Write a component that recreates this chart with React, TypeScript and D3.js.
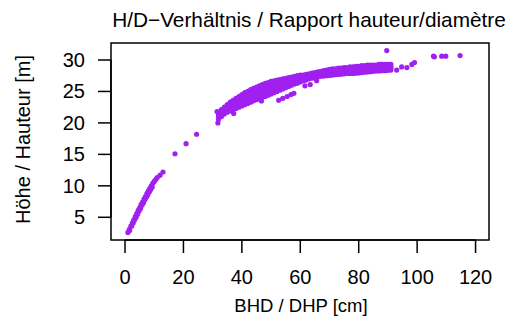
import React from "react";
import * as d3 from "d3";

// Small trees (diameter cm, height m)
const smallDbh = [1.0, 1.5, 2.0, 2.5, 3.0, 3.5, 4.0, 4.5, 5.0, 5.5, 6.0, 6.5, 7.0, 7.5, 8.0, 8.5, 9.0, 9.5, 10.0, 10.5, 11.0, 12.0, 13.0];
const smallH = [2.6, 3.1, 3.6, 4.1, 4.6, 5.1, 5.6, 6.1, 6.5, 7.0, 7.4, 7.9, 8.3, 8.8, 9.2, 9.6, 10.0, 10.4, 10.7, 11.0, 11.3, 11.7, 12.2];
const smallDbh2 = [1.6, 2.3, 2.8, 3.3, 3.8, 4.3, 4.8, 5.3, 5.8, 6.3, 6.8, 7.3, 7.8, 8.3, 8.8, 9.3];
const smallH2 = [2.9, 3.6, 4.1, 4.6, 5.0, 5.5, 6.0, 6.4, 6.9, 7.3, 7.8, 8.2, 8.6, 9.0, 9.4, 9.8];

// Main stand band
const bandDbh = [32, 33, 34, 35, 36, 37, 38, 39, 40, 41, 42, 43, 44, 45, 46, 47, 48, 49, 50, 51, 52, 53, 54, 55, 56, 57, 58, 59, 60, 61, 62, 63, 64, 65, 66, 67, 68, 69, 70, 71, 72, 73, 74, 75, 76, 77, 78, 79, 80, 81, 82, 83, 84, 85, 86, 87, 88, 89, 90, 91];
const bandTop = [21.7, 22.1, 22.5, 22.9, 23.3, 23.6, 23.9, 24.2, 24.5, 24.8, 25.0, 25.3, 25.5, 25.7, 25.9, 26.1, 26.3, 26.4, 26.6, 26.7, 26.8, 26.9, 27.0, 27.1, 27.2, 27.3, 27.4, 27.5, 27.6, 27.6, 27.7, 27.8, 27.9, 28.0, 28.1, 28.2, 28.3, 28.4, 28.5, 28.6, 28.6, 28.7, 28.7, 28.8, 28.8, 28.9, 28.9, 29.0, 29.0, 29.1, 29.1, 29.2, 29.2, 29.2, 29.2, 29.3, 29.3, 29.3, 29.3, 29.3];
const bandMid1 = [21.3, 21.7, 22.1, 22.5, 22.8, 23.1, 23.4, 23.6, 23.9, 24.2, 24.4, 24.6, 24.8, 25.0, 25.2, 25.4, 25.6, 25.7, 25.9, 26.1, 26.2, 26.3, 26.5, 26.6, 26.7, 26.9, 27.0, 27.1, 27.2, 27.3, 27.4, 27.5, 27.6, 27.7, 27.8, 27.9, 28.0, 28.1, 28.2, 28.3, 28.3, 28.4, 28.4, 28.5, 28.5, 28.6, 28.6, 28.6, 28.7, 28.7, 28.8, 28.8, 28.9, 28.9, 28.9, 28.9, 29.0, 29.0, 29.0, 29.0];
const bandMid2 = [21.0, 21.4, 21.8, 22.1, 22.4, 22.6, 22.8, 23.1, 23.3, 23.5, 23.7, 24.0, 24.2, 24.4, 24.6, 24.8, 24.9, 25.1, 25.3, 25.4, 25.6, 25.8, 25.9, 26.1, 26.3, 26.4, 26.6, 26.7, 26.9, 27.0, 27.1, 27.3, 27.4, 27.5, 27.6, 27.7, 27.7, 27.8, 27.9, 27.9, 28.0, 28.0, 28.1, 28.1, 28.2, 28.2, 28.2, 28.3, 28.3, 28.4, 28.4, 28.5, 28.5, 28.5, 28.6, 28.6, 28.6, 28.6, 28.7, 28.7];
const bandLow = [20.6, 21.0, 21.4, 21.7, 21.9, 22.1, 22.3, 22.5, 22.7, 22.9, 23.1, 23.3, 23.5, 23.7, 23.9, 24.1, 24.2, 24.4, 24.6, 24.8, 25.0, 25.2, 25.4, 25.6, 25.8, 26.0, 26.2, 26.3, 26.5, 26.7, 26.8, 27.0, 27.1, 27.2, 27.3, 27.4, 27.45, 27.5, 27.55, 27.6, 27.65, 27.7, 27.75, 27.8, 27.85, 27.85, 27.85, 27.9, 27.95, 28.0, 28.05, 28.1, 28.15, 28.2, 28.25, 28.25, 28.3, 28.3, 28.35, 28.4];

// Scattered trees
const otherDbh = [17.1, 20.9, 24.5, 31.5, 31.8, 37.2, 46.7, 52.6, 54.0, 55.5, 56.8, 57.8, 61.6, 63.4, 65.6, 93.0, 94.7, 96.5, 98.2, 99.1, 89.6, 105.6, 105.9, 108.4, 109.8, 114.7];
const otherH = [15.1, 16.7, 18.2, 21.8, 20.0, 21.5, 23.5, 23.6, 23.9, 24.2, 24.5, 24.7, 25.9, 26.1, 26.7, 28.4, 28.9, 28.8, 29.3, 29.6, 31.5, 30.6, 30.5, 30.6, 30.6, 30.7];

const xTicks = [0, 20, 40, 60, 80, 100, 120];
const yTicks = [5, 10, 15, 20, 25, 30];

const title = "H/D\u2212Verhältnis / Rapport hauteur/diamètre";
const xLabel = "BHD / DHP [cm]";
const yLabel = "Höhe / Hauteur [m]";

export default function App() {
  const W = 527, H = 318;
  const left = 111, right = 489, top = 43, bottom = 240;
  const x = d3.scaleLinear().domain([-4.8, 124.6]).range([left, right]);
  const y = d3.scaleLinear().domain([1.39, 32.7]).range([bottom, top]);

  const pts: [number, number][] = [];
  smallDbh.forEach((d, i) => pts.push([d, smallH[i]]));
  smallDbh2.forEach((d, i) => pts.push([d, smallH2[i]]));
  bandDbh.forEach((d, i) => {
    pts.push([d, bandTop[i]]);
    pts.push([d, bandMid1[i]]);
    pts.push([d, bandMid2[i]]);
    pts.push([d, bandLow[i]]);
  });
  otherDbh.forEach((d, i) => pts.push([d, otherH[i]]));

  const font = "'Liberation Sans', Arial, Helvetica, sans-serif";
  const tick = 13;

  return (
    <svg width={W} height={H} style={{ position: "absolute", left: 0, top: 0, background: "#fff" }} fontFamily={font}>
      <rect x={0} y={0} width={W} height={H} fill="#fff" />
      <g fill="#A020F0">
        {pts.map((p, i) => (
          <circle key={i} cx={x(p[0])} cy={y(p[1])} r={2.6} />
        ))}
      </g>
      <rect x={left} y={top} width={right - left} height={bottom - top} fill="none" stroke="#000" strokeWidth={1.5} />
      <g stroke="#000" strokeWidth={1.5}>
        <line x1={x(xTicks[0])} x2={x(xTicks[xTicks.length - 1])} y1={bottom} y2={bottom} />
        {xTicks.map((t) => (
          <line key={t} x1={x(t)} x2={x(t)} y1={bottom} y2={bottom + tick} />
        ))}
        <line x1={left} x2={left} y1={y(yTicks[0])} y2={y(yTicks[yTicks.length - 1])} />
        {yTicks.map((t) => (
          <line key={t} x1={left} x2={left - tick} y1={y(t)} y2={y(t)} />
        ))}
      </g>
      <g fontSize={20} fill="#000">
        {xTicks.map((t) => (
          <text key={t} x={x(t)} y={284} textAnchor="middle">{t}</text>
        ))}
        {yTicks.map((t) => (
          <text key={t} x={85} y={y(t) + 7} textAnchor="end">{t}</text>
        ))}
      </g>
      <text x={301} y={311.5} textAnchor="middle" fontSize={18.5} fill="#000">{xLabel}</text>
      <text transform={`translate(30,${(top + bottom) / 2 - 2}) rotate(-90)`} textAnchor="middle" fontSize={20} fill="#000">{yLabel}</text>
      <text x={309} y={27} textAnchor="middle" fontSize={20.8} fill="#000">{title}</text>
    </svg>
  );
}
